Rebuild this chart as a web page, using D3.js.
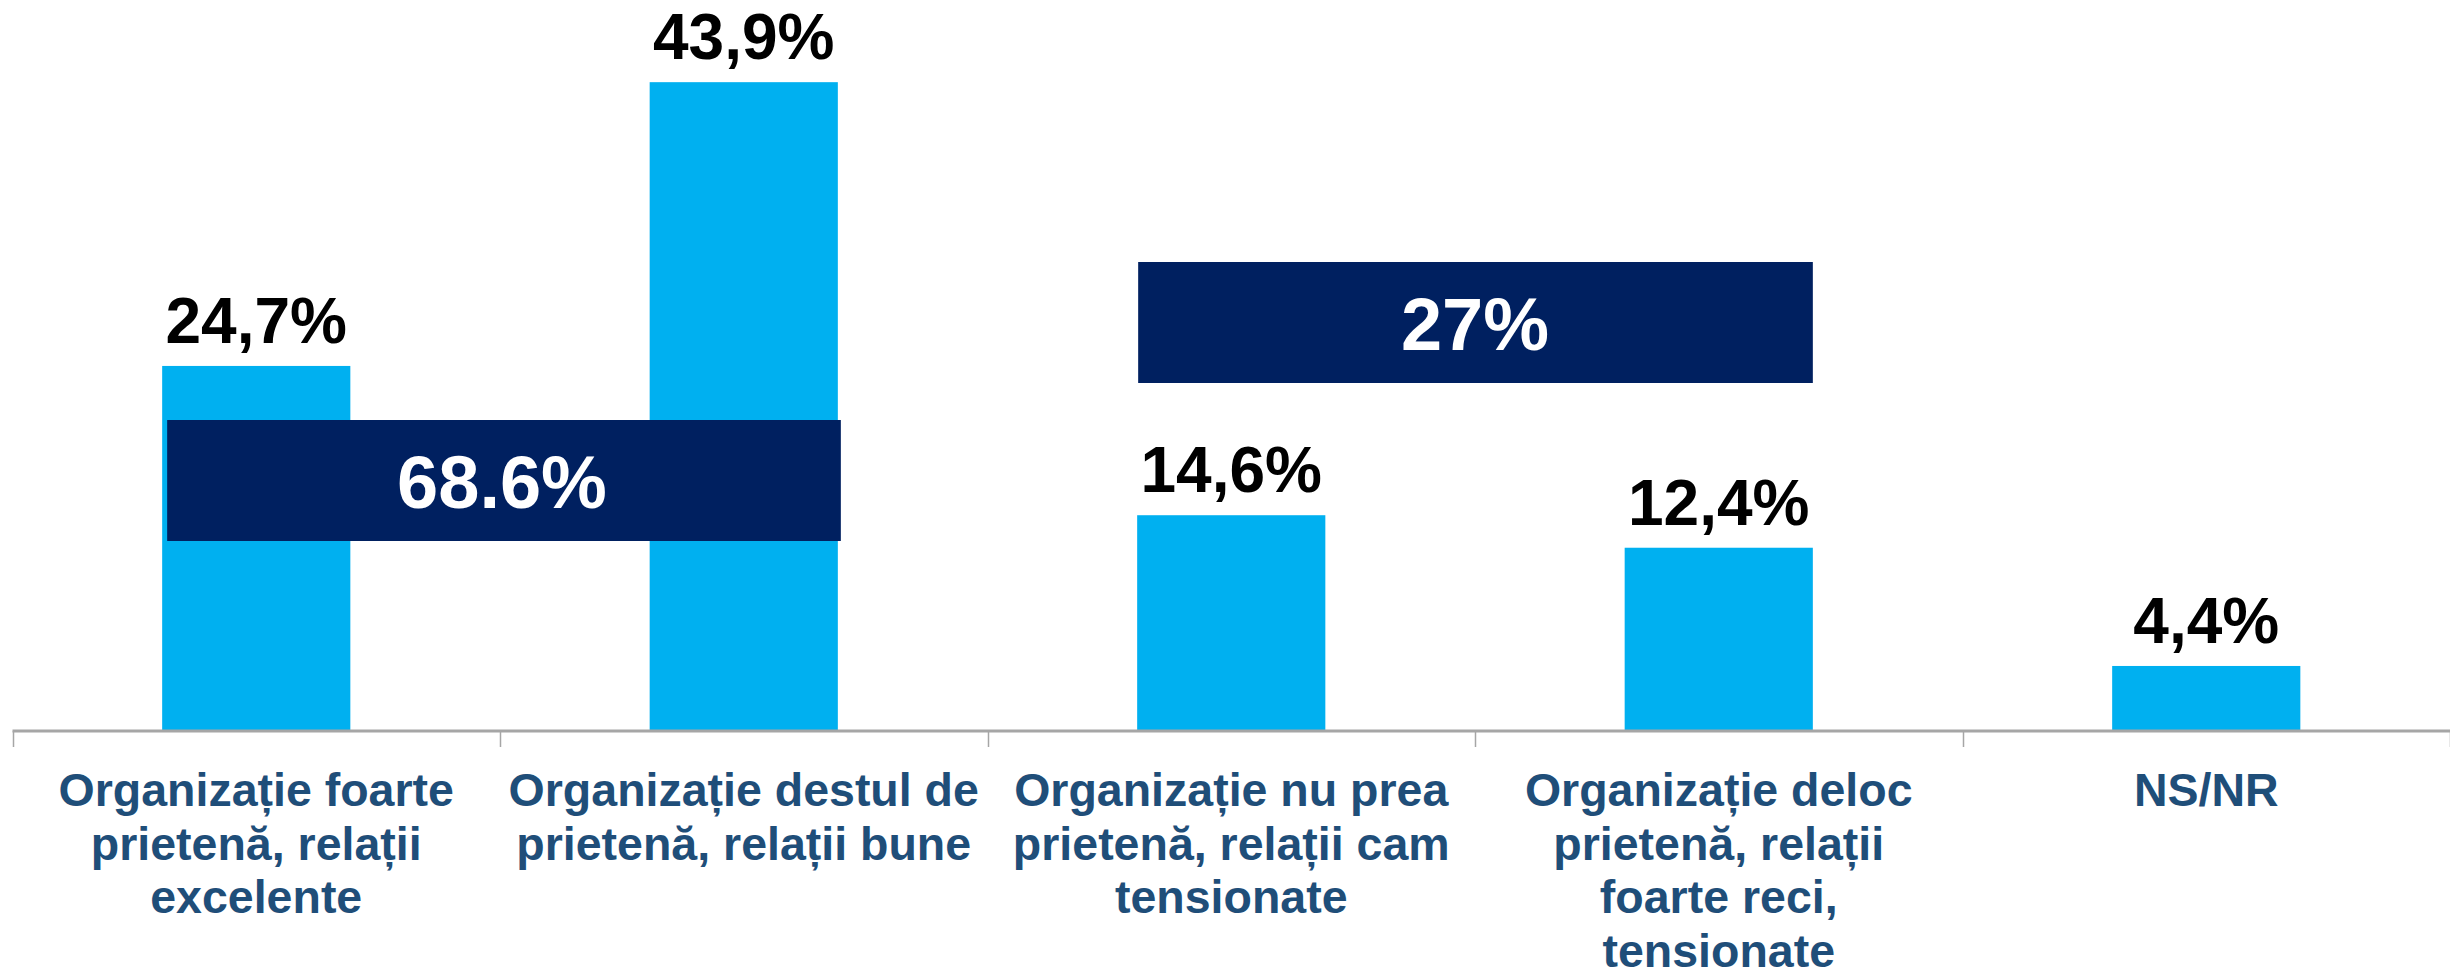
<!DOCTYPE html>
<html>
<head>
<meta charset="utf-8">
<script src="https://cdn.jsdelivr.net/npm/d3@7"></script>
<style>
  html, body { margin: 0; padding: 0; background: #fff; }
  svg { display: block; font-family: "Liberation Sans", Arial, sans-serif; }
</style>
</head>
<body>
<svg id="chart"></svg>
<script>
// Data
const categories = [
  ["Organizație foarte", "prietenă, relații", "excelente"],
  ["Organizație destul de", "prietenă, relații bune"],
  ["Organizație nu prea", "prietenă, relații cam", "tensionate"],
  ["Organizație deloc", "prietenă, relații", "foarte reci,", "tensionate"],
  ["NS/NR"]
];
const values = [24.7, 43.9, 14.6, 12.4, 4.4];
const valueLabels = ["24,7%", "43,9%", "14,6%", "12,4%", "4,4%"];

// grouped totals: first and last category index of each box
const groupLabels = ["68.6%", "27%"];
const groupFrom = [0, 2];
const groupTo = [1, 3];

// Set up SVG dimensions
const width = 2450, height = 976;
const axisY = 731;

const svg = d3.select("#chart")
  .attr("width", width)
  .attr("height", height);

// Scales
const x = d3.scaleBand()
  .domain(d3.range(categories.length))
  .range([12.5, 12.5 + 487.5 * 5])
  .padding(0);

const y = d3.scaleLinear()
  .domain([0, 49.46])
  .range([axisY, 0]);

const barW = x.bandwidth() * 0.386;
const barX = i => x(i) + (x.bandwidth() - barW) / 2;

// Bars
svg.selectAll(".bar")
  .data(values)
  .enter().append("rect")
  .attr("class", "bar")
  .attr("x", (d, i) => barX(i))
  .attr("y", d => y(d))
  .attr("width", barW)
  .attr("height", d => y(0) - y(d))
  .attr("fill", "#00B0F0");

// Value labels
svg.selectAll(".val")
  .data(values)
  .enter().append("text")
  .attr("class", "val")
  .attr("x", (d, i) => x(i) + x.bandwidth() / 2)
  .attr("y", d => y(d) - 23)
  .attr("text-anchor", "middle")
  .attr("font-size", 64)
  .attr("font-weight", "bold")
  .attr("fill", "#000")
  .text((d, i) => valueLabels[i]);

// Axis line and ticks at category boundaries
svg.append("line")
  .attr("x1", x.range()[0]).attr("x2", width)
  .attr("y1", axisY).attr("y2", axisY)
  .attr("stroke", "#A6A6A6")
  .attr("stroke-width", 3);

svg.selectAll(".tick")
  .data(d3.range(categories.length + 1))
  .enter().append("line")
  .attr("class", "tick")
  .attr("x1", i => Math.round(x.range()[0] + i * x.step()) + 0.5)
  .attr("x2", i => Math.round(x.range()[0] + i * x.step()) + 0.5)
  .attr("y1", axisY)
  .attr("y2", axisY + 16)
  .attr("stroke", "#A6A6A6")
  .attr("stroke-width", 1.5);

// Category labels
const cat = svg.selectAll(".cat")
  .data(categories)
  .enter().append("text")
  .attr("class", "cat")
  .attr("text-anchor", "middle")
  .attr("font-size", 46.5)
  .attr("font-weight", "bold")
  .attr("fill", "#1F4E79");

cat.selectAll("tspan")
  .data((d, i) => d.map(line => ({ line, i })))
  .enter().append("tspan")
  .attr("x", d => x(d.i) + x.bandwidth() / 2)
  .attr("y", (d, j) => 806 + j * 53.5)
  .text(d => d.line);

// Grouped total boxes
const boxH = 121;
const boxTop = [420, 262];
const boxes = svg.selectAll(".grp")
  .data(groupLabels)
  .enter().append("g")
  .attr("class", "grp");

boxes.append("rect")
  .attr("x", (d, i) => barX(groupFrom[i]) + (i === 0 ? 5 : 1))
  .attr("y", (d, i) => boxTop[i])
  .attr("width", (d, i) => barX(groupTo[i]) + barW - barX(groupFrom[i]) - (i === 0 ? 2 : 1))
  .attr("height", boxH)
  .attr("fill", "#002060");

boxes.append("text")
  .attr("x", (d, i) => (barX(groupFrom[i]) + barX(groupTo[i]) + barW) / 2 + (i === 0 ? 2 : 0))
  .attr("y", (d, i) => boxTop[i] + boxH / 2 + 27)
  .attr("text-anchor", "middle")
  .attr("font-size", 74)
  .attr("font-weight", "bold")
  .attr("fill", "#fff")
  .text(d => d);
</script>
</body>
</html>
